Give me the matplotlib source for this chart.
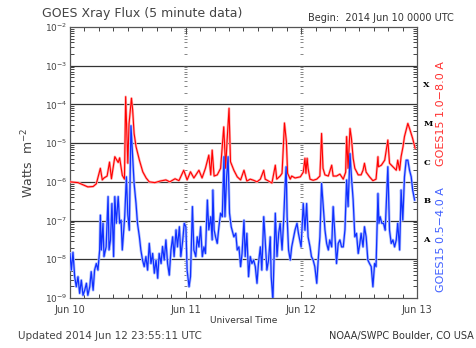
import matplotlib
matplotlib.use("Agg")
import matplotlib.pyplot as plt
import numpy as np

# long channel 1.0-8.0 A: (hours since Jun 10 00:00, log10 flux)
long_hours = [0, 1.66, 3.7, 4.8, 5.46, 6.3, 6.7, 7.05, 7.7, 8.2, 8.6, 9.3, 10.0, 10.3, 10.85,
              11.3, 11.55, 12.0, 12.25, 12.75, 13.0, 13.3, 13.7, 14.4, 15.1, 15.8, 16.45, 17.6,
              18.7, 19.9, 20.7, 21.8, 22.6, 23.6, 24.3, 25.0, 25.7, 26.75, 27.4, 28.1, 28.8,
              29.2, 29.5, 29.9, 30.55, 31.25, 31.9, 32.3, 32.6, 33.0, 33.3, 34.0, 34.7, 35.4,
              36.1, 36.7, 37.4, 38.1, 38.8, 39.5, 40.2, 40.5, 41.2, 41.9, 42.6, 42.9, 43.6,
              44.0, 44.5, 44.9, 45.15, 45.7, 46.0, 46.7, 47.8, 48.4, 48.75, 48.95, 49.2, 49.4,
              49.8, 50.45, 51.2, 51.85, 52.2, 52.5, 52.9, 53.6, 54.3, 54.6, 55.3, 56.0, 56.7,
              57.2, 57.4, 57.7, 58.1, 58.4, 58.75, 59.1, 59.8, 60.4, 60.8, 61.1, 61.45, 62.15,
              62.85, 63.5, 63.9, 64.0, 64.6, 65.3, 65.95, 66.3, 67.0, 67.7, 68.0, 68.4, 68.7,
              69.1, 69.4, 70.1, 70.45, 71.1, 71.6]
long_log = [-6.0, -6.02, -6.13, -6.12, -6.05, -5.65, -5.95, -5.9, -5.85, -5.49, -5.92, -5.35,
            -5.5, -5.38, -5.83, -5.93, -3.8, -5.52, -4.5, -3.84, -4.14, -4.75, -5.09, -5.44,
            -5.74, -5.9, -6.0, -6.02, -5.98, -5.95, -6.0, -5.92, -5.97, -5.7, -5.95, -5.74,
            -5.9, -5.7, -5.9, -5.65, -5.31, -5.82, -5.18, -5.85, -5.82, -5.65, -4.58, -5.65,
            -4.92, -4.1, -5.48, -5.7, -5.87, -5.95, -5.7, -5.98, -5.93, -5.96, -6.0, -5.93,
            -5.7, -5.93, -5.98, -6.03, -5.57, -5.93, -5.85, -5.78, -4.48, -4.96, -5.78, -5.93,
            -5.85, -5.9, -5.87, -5.75, -5.39, -5.78, -5.39, -5.65, -5.93, -5.96, -5.93, -5.85,
            -4.75, -5.65, -5.82, -5.85, -5.57, -5.85, -5.85, -5.8, -5.93, -5.75, -4.83, -5.65,
            -4.62, -4.88, -5.39, -5.65, -5.82, -5.82, -5.7, -5.52, -5.75, -5.87, -5.97, -5.93,
            -5.35, -5.61, -5.57, -5.44, -4.92, -5.52, -5.61, -5.7, -5.44, -5.7, -5.35, -5.09,
            -4.83, -4.49, -4.62, -4.88, -5.13]

# short channel 0.5-4.0 A
short_hours = [0, 0.28, 0.62, 0.97, 1.3, 1.66, 2.0, 2.35, 2.7, 3.05, 3.4, 3.7, 4.1, 4.4, 4.8,
               5.1, 5.46, 5.8, 6.15, 6.3, 6.5, 6.85, 7.05, 7.5, 7.9, 8.1, 8.4, 8.7, 9.05, 9.3,
               9.6, 10.0, 10.3, 10.6, 10.85, 11.1, 11.35, 11.7, 12.0, 12.3, 12.65, 13.0, 13.3,
               13.7, 14.0, 14.4, 14.7, 15.05, 15.4, 15.75, 16.1, 16.45, 16.8, 17.15, 17.5,
               17.85, 18.2, 18.5, 18.9, 19.2, 19.55, 19.9, 20.25, 20.6, 20.95, 21.3, 21.6,
               22.0, 22.3, 22.7, 23.0, 23.4, 23.7, 24.05, 24.3, 24.7, 25.0, 25.4, 25.7, 26.1,
               26.4, 26.75, 27.1, 27.45, 27.8, 28.1, 28.5, 28.8, 29.2, 29.5, 29.65, 29.9, 30.2,
               30.55, 30.9, 31.25, 31.6, 31.95, 32.15, 32.5, 32.8, 33.1, 33.45, 34.0, 34.4,
               34.7, 35.05, 35.4, 35.7, 36.1, 36.35, 36.7, 37.05, 37.4, 37.75, 38.1, 38.45,
               38.8, 39.1, 39.5, 39.8, 40.2, 40.5, 40.85, 41.2, 41.55, 41.75, 42.1, 42.4, 42.6,
               42.95, 43.3, 43.6, 44.0, 44.3, 44.65, 44.85, 45.05, 45.35, 45.7, 46.0, 46.4,
               46.7, 47.1, 47.4, 47.95, 48.4, 48.75, 49.1, 49.4, 49.8, 50.1, 50.45, 50.8, 51.2,
               51.5, 51.85, 52.2, 52.5, 52.9, 53.25, 53.6, 53.9, 54.3, 54.6, 54.95, 55.3, 55.65,
               56.0, 56.35, 56.7, 57.05, 57.4, 57.7, 58.1, 58.4, 58.75, 59.1, 59.45, 59.8,
               60.15, 60.4, 60.8, 61.1, 61.45, 61.8, 62.15, 62.5, 62.85, 63.2, 63.5, 63.9, 64.1,
               64.35, 64.7, 65.05, 65.4, 65.95, 66.3, 66.65, 67.0, 67.35, 67.7, 68.0, 68.4,
               68.7, 69.05, 69.4, 69.75, 70.1, 70.45, 70.8, 71.1, 71.5]
short_log = [-7.85, -8.28, -7.82, -8.45, -8.71, -8.45, -8.88, -8.54, -8.93, -8.8, -8.62, -8.93,
             -8.71, -8.32, -8.8, -8.28, -8.11, -8.28, -7.76, -6.86, -7.76, -7.07, -7.93, -7.68,
             -6.38, -7.76, -7.5, -6.56, -7.93, -6.38, -7.07, -6.38, -7.07, -6.99, -7.76, -7.33,
             -6.9, -5.87, -6.86, -7.25, -4.55, -5.35, -6.04, -6.56, -7.07, -7.42, -7.76, -8.02,
             -8.19, -7.93, -8.28, -7.59, -8.11, -7.85, -8.36, -8.02, -8.49, -7.85, -8.11, -7.67,
             -8.02, -7.5, -8.11, -8.41, -7.76, -7.42, -7.93, -7.24, -7.68, -7.16, -7.93, -7.5,
             -7.07, -7.16, -8.28, -8.71, -8.45, -6.64, -7.76, -7.93, -7.42, -7.68, -7.16, -7.93,
             -7.68, -7.85, -6.47, -7.24, -6.9, -7.5, -6.21, -7.24, -7.42, -7.59, -7.16, -6.81,
             -6.9, -5.35, -6.9, -5.87, -5.35, -6.81, -7.16, -7.42, -7.33, -7.76, -7.68, -8.19,
             -7.85, -6.99, -7.93, -7.33, -8.45, -7.93, -8.11, -8.02, -8.19, -8.62, -8.11, -7.68,
             -8.28, -6.9, -7.5, -8.28, -8.02, -7.42, -8.45, -9.05, -7.68, -6.81, -7.93, -7.33,
             -7.07, -7.76, -7.07, -6.04, -5.61, -6.9, -7.76, -8.02, -7.68, -7.42, -7.24, -7.07,
             -7.33, -7.68, -6.56, -7.25, -6.56, -7.42, -7.68, -7.93, -8.02, -8.19, -8.62, -8.02,
             -7.42, -6.04, -6.56, -7.24, -7.59, -7.76, -7.5, -7.68, -6.64, -7.33, -8.11, -7.59,
             -7.5, -7.68, -7.68, -7.24, -5.95, -6.64, -5.27, -5.87, -6.47, -7.42, -7.33, -7.85,
             -7.59, -7.33, -7.68, -7.16, -7.42, -8.02, -8.11, -8.19, -8.71, -8.11, -8.19, -6.3,
             -7.07, -6.9, -7.07, -7.07, -7.25, -5.61, -7.25, -7.59, -7.5, -7.68, -7.5, -7.07,
             -7.76, -6.21, -6.99, -5.87, -5.44, -5.44, -5.7, -5.87, -6.21, -6.47]

day_labels = ["Jun 10", "Jun 11", "Jun 12", "Jun 13"]
decades = [-9, -8, -7, -6, -5, -4, -3, -2]
flare_classes = ["A", "B", "C", "M", "X"]

fig = plt.figure(figsize=(4.76, 3.48), dpi=100)
ax = fig.add_axes([70 / 476, 1 - 298 / 348, 347 / 476, 271 / 348])

lh = np.array(long_hours)
sh = np.array(short_hours)
lf = 10.0 ** np.array(long_log)
sf = 10.0 ** np.array(short_log)

# pale halo under each trace, then the trace itself
ax.plot(lh, lf, color="#ffb0b0", lw=1.8, zorder=3)
ax.plot(lh, lf, color="#ff0000", lw=0.8, zorder=4)
ax.plot(sh, sf, color="#b0c0ff", lw=2.0, zorder=3)
ax.plot(sh, sf, color="#1030ff", lw=0.9, zorder=4)

ax.set_yscale("log")
ax.set_ylim(1e-9, 1e-2)
ax.set_xlim(0, 72)

# decade grid lines
for d in decades[1:-1]:
    ax.axhline(10.0 ** d, color="#333333", lw=0.9, zorder=2)

ax.set_yticks([10.0 ** d for d in decades])
ax.set_yticklabels([r"10$^{%d}$" % d for d in decades], fontsize=6.5, color="#333333")
minor = [m * 10.0 ** d for d in decades[:-1] for m in range(2, 10)]
ax.set_yticks(minor, minor=True)
ax.set_yticklabels([], minor=True)

ax.set_xticks([0, 24, 48, 72])
ax.set_xticklabels(day_labels, fontsize=7, color="#333333")
ax.set_xticks(np.arange(0, 73, 3), minor=True)
ax.tick_params(axis="both", which="both", direction="in", top=True, right=True,
               colors="#444444", width=0.7)
ax.tick_params(axis="y", which="major", length=5, pad=2)
ax.tick_params(axis="y", which="minor", length=3)
ax.tick_params(axis="x", which="major", length=5, pad=5)
ax.tick_params(axis="x", which="minor", length=3)

# repeat the y ticks along each day boundary
for day in [24, 48]:
    for d in decades:
        ax.hlines(10.0 ** d, day - 0.45, day + 0.45, color="#444444", lw=0.7, zorder=2)
    for m in minor:
        ax.hlines(m, day - 0.3, day + 0.3, color="#555555", lw=0.5, zorder=2)

for s in ax.spines.values():
    s.set_color("#555555")
    s.set_linewidth(0.9)

ax.set_ylabel("Watts  m$^{-2}$", fontsize=9, color="#444444", labelpad=6)
ax.set_xlabel("Universal Time", fontsize=6.5, color="#333333", labelpad=1)

# flare class letters between decades
for i, c in enumerate(flare_classes):
    ax.text(1.018, 10.0 ** (-7.5 + i), c, transform=ax.get_yaxis_transform(),
            fontsize=6, family="DejaVu Serif", weight="bold", va="center", ha="left")

fig.text(42 / 476, 1 - 13 / 348, "GOES Xray Flux (5 minute data)", fontsize=9,
         color="#444444", va="center", ha="left")
fig.text(308 / 476, 1 - 18 / 348, "Begin:  2014 Jun 10 0000 UTC", fontsize=7,
         color="#333333", va="center", ha="left")
fig.text(18 / 476, 1 - 336 / 348, "Updated 2014 Jun 12 23:55:11 UTC", fontsize=7.5,
         color="#444444", va="center", ha="left")
fig.text(474 / 476, 1 - 336 / 348, "NOAA/SWPC Boulder, CO USA", fontsize=7,
         color="#333333", va="center", ha="right")
fig.text(441 / 476, 1 - 114 / 348, "GOES15 1.0\u22128.0 A", fontsize=8, color="#ff3030",
         rotation=90, va="center", ha="center")
fig.text(441 / 476, 1 - 240 / 348, "GOES15 0.5\u22124.0 A", fontsize=8, color="#4060ff",
         rotation=90, va="center", ha="center")

fig.savefig("out.png", dpi=100)
